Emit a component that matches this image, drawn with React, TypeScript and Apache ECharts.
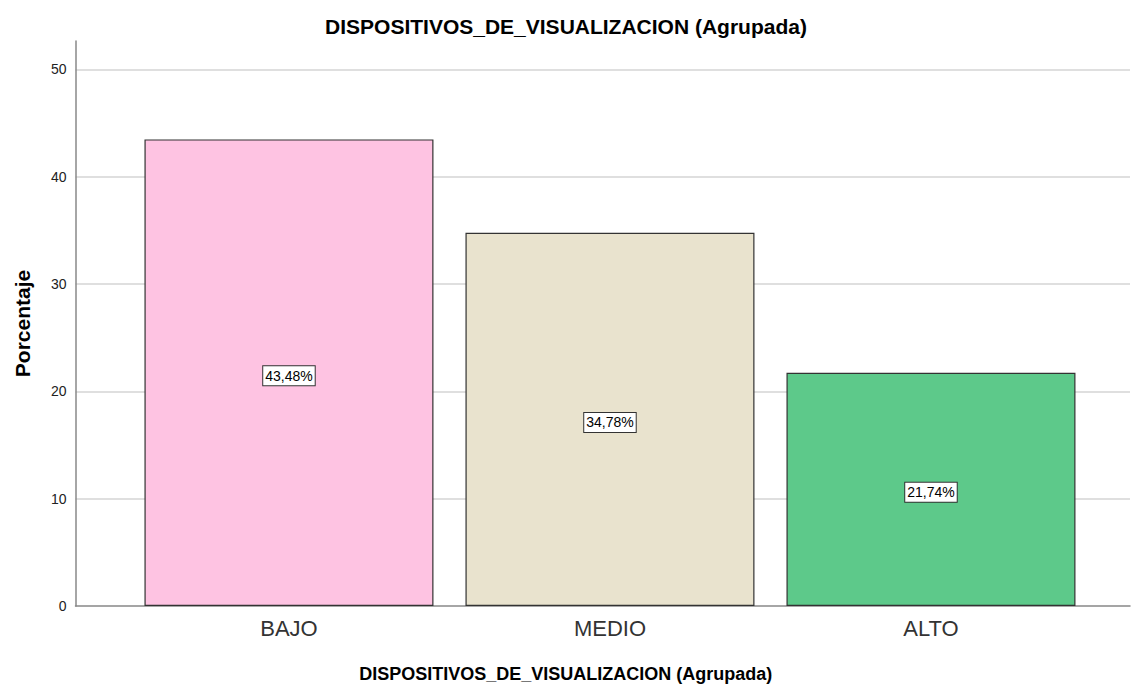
import React, { useEffect, useRef } from "react";
import * as echarts from "echarts";

const categories = ["BAJO", "MEDIO", "ALTO"];
const values = [43.48, 34.78, 21.74];
const barColors = ["#FEC3E2", "#E9E3CE", "#5DC98A"];
const yTicks = [0, 10, 20, 30, 40, 50];
const titleText = "DISPOSITIVOS_DE_VISUALIZACION (Agrupada)";
const xName = "DISPOSITIVOS_DE_VISUALIZACION (Agrupada)";
const yName = "Porcentaje";

export default function App() {
  const ref = useRef<HTMLDivElement>(null);
  useEffect(() => {
    const chart = echarts.init(ref.current!, null, { renderer: "svg" });
    const font = "Liberation Sans, Arial, sans-serif";
    chart.setOption({
      animation: false,
      backgroundColor: "#ffffff",
      title: {
        text: titleText,
        left: "center",
        top: 11,
        textStyle: { fontFamily: font, fontSize: 21, fontWeight: "bold", color: "#000" },
      },
      grid: { left: 75.5, right: 2, top: 41, bottom: 81.3, containLabel: false },
      xAxis: {
        type: "value",
        min: -0.665,
        max: 2.62,
        name: xName,
        nameLocation: "middle",
        nameGap: 59,
        nameTextStyle: { fontFamily: font, fontSize: 18, fontWeight: "bold", color: "#000", padding: [0, 74, 0, 0] },
        splitLine: { show: false },
        axisTick: { show: false },
        axisLine: { show: true, onZero: false, lineStyle: { color: "#888", width: 1.5 } },
        axisLabel: {
          customValues: [0, 1, 2],
          formatter: (v: number) => categories[Math.round(v)] ?? "",
          fontFamily: font,
          fontSize: 22,
          color: "#333",
          margin: 11,
        },
      },
      yAxis: {
        type: "value",
        min: 0,
        max: 52.65,
        interval: 10,
        name: yName,
        nameLocation: "middle",
        nameGap: 43,
        nameRotate: 90,
        nameTextStyle: { fontFamily: font, fontSize: 21, fontWeight: "bold", color: "#000" },
        axisLine: { show: true, onZero: false, lineStyle: { color: "#888", width: 1.5 } },
        axisTick: { show: false },
        axisLabel: {
          customValues: yTicks,
          fontFamily: font,
          fontSize: 14,
          color: "#222",
          margin: 9,
        },
        splitLine: { show: true, showMaxLine: false, showMinLine: false, lineStyle: { color: "#d4d4d4", width: 1.5 } },
      },
      series: [
        {
          type: "bar",
          barWidth: 289,
          data: values.map((v, i) => ({
            value: [i, v],
            itemStyle: { color: barColors[i], borderColor: "#333", borderWidth: 1.2 },
          })),
          label: {
            show: true,
            position: "inside",
            offset: [0, 3],
            formatter: (p: any) => p.value[1].toFixed(2).replace(".", ",") + "%",
            fontFamily: font,
            fontSize: 14,
            color: "#000",
            backgroundColor: "#fff",
            borderColor: "#333",
            borderWidth: 1,
            padding: [3, 2, 2, 2],
          },
        },
      ],
    });
    return () => chart.dispose();
  }, []);
  return (
    <div
      ref={ref}
      style={{ position: "fixed", left: 0, top: 0, width: 1132, height: 688, background: "#fff" }}
    />
  );
}
